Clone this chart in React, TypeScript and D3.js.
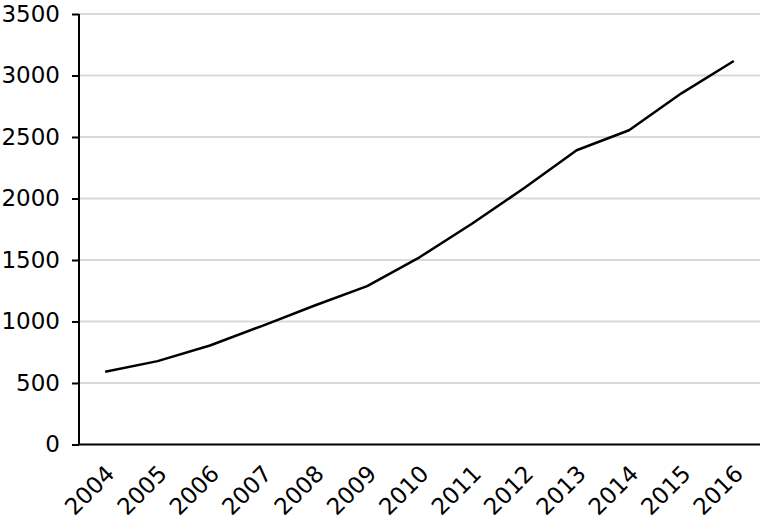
import React, { useEffect, useRef } from "react";
import * as d3 from "d3";

const years = ["2004", "2005", "2006", "2007", "2008", "2009", "2010", "2011", "2012", "2013", "2014", "2015", "2016"];
const values = [592, 678, 805, 965, 1130, 1288, 1522, 1795, 2085, 2392, 2555, 2855, 3118];
const yTicks = [0, 500, 1000, 1500, 2000, 2500, 3000, 3500];

const W = 765;
const H = 519;
const margin = { top: 14, right: 5, bottom: 74.5, left: 79 };

function App() {
  const ref = useRef<SVGSVGElement>(null);

  useEffect(() => {
    const svg = d3.select(ref.current);
    svg.selectAll("*").remove();

    const innerW = W - margin.left - margin.right;
    const innerH = H - margin.top - margin.bottom;

    const x = d3.scaleBand().domain(years).range([0, innerW]);
    const y = d3.scaleLinear().domain([0, 3500]).range([innerH, 0]);

    const g = svg.append("g").attr("transform", `translate(${margin.left},${margin.top})`);

    // gridlines
    g.append("g")
      .selectAll("line")
      .data(yTicks.filter((d) => d > 0))
      .join("line")
      .attr("x1", 0)
      .attr("x2", innerW)
      .attr("y1", (d) => y(d))
      .attr("y2", (d) => y(d))
      .attr("stroke", "#d9d9d9")
      .attr("stroke-width", 2);

    // y axis
    const yg = g
      .append("g")
      .call(d3.axisLeft(y).tickValues(yTicks).tickFormat(d3.format("d")).tickSize(7).tickPadding(12));
    yg.attr("font-size", null).attr("font-family", null);
    yg.select(".domain").attr("stroke", "#000").attr("stroke-width", 2).attr("d", `M0,${innerH}V0`);
    yg.selectAll(".tick line").attr("stroke", "#000").attr("stroke-width", 2);
    yg.selectAll("text")
      .style("font-family", "DejaVu Sans, sans-serif")
      .style("font-size", "23px")
      .attr("fill", "#000");

    // x axis
    const xg = g.append("g").attr("transform", `translate(0,${innerH})`).call(d3.axisBottom(x).tickSize(0));
    xg.attr("font-size", null).attr("font-family", null);
    xg.select(".domain").attr("stroke", "#000").attr("stroke-width", 2).attr("d", `M0,0H${innerW}`);
    xg.selectAll("text")
      .style("font-family", "DejaVu Sans, sans-serif")
      .style("font-size", "23px")
      .attr("fill", "#000")
      .attr("text-anchor", "end")
      .attr("y", 0)
      .attr("dy", "0.35em")
      .attr("transform", "translate(5,25) rotate(-45)");

    const line = d3
      .line<number>()
      .x((d, i) => (x(years[i]) as number) + x.bandwidth() / 2)
      .y((d) => y(d));

    g.append("path")
      .datum(values)
      .attr("d", line)
      .attr("fill", "none")
      .attr("stroke", "#000")
      .attr("stroke-width", 2.5)
      .attr("stroke-linejoin", "round");
  }, []);

  return (
    <svg
      ref={ref}
      width={W}
      height={H}
      style={{ position: "fixed", left: 0, top: 0, background: "#fff" }}
    />
  );
}

export default App;
